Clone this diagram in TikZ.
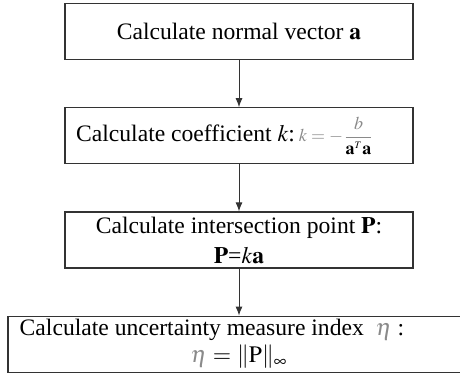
\documentclass[tikz,border=0pt]{standalone}
\usepackage{mathptmx}
\usepackage{fontspec}
\setmainfont{Liberation Serif}
\usetikzlibrary{arrows.meta,positioning}
\definecolor{FlowLine}{HTML}{333333}
\definecolor{FlowGray}{HTML}{8A8A8A}

\begin{document}
\begin{tikzpicture}[node distance=23.5pt]
    \tikzset{s/.style={draw=FlowLine,line width=0.6pt,minimum width=174pt,minimum height=28pt,
      align=center,inner ysep=1pt,font=\fontsize{11.8}{15}\selectfont},
      flow/.style={draw=FlowLine,line width=0.5pt,-{Latex[length=4.5pt,width=3.5pt]}}}
    \useasboundingbox (0,0) rectangle (230pt,-189pt);
    \node[s,anchor=north] (a) at (119.5pt,-1.5pt) {Calculate normal vector $\mathbf{a}$};
    \node[s,below=of a,inner ysep=0pt] (b) {Calculate coefficient $k$:\,{\small$\displaystyle\color{FlowGray}k=-\frac{b}{\textcolor{black}{\mathbf{a}^{\scriptscriptstyle T}\mathbf{a}}}$}\hspace*{14pt}};
    \node[s,below=of b] (c) {Calculate intersection point $\mathbf{P}$:\\ $\mathbf{P}$=$k\mathbf{a}$};
    \node[s,below=of c,minimum width=231pt,inner ysep=0pt,font=\fontsize{11.8}{13.5}\selectfont] (d) {Calculate uncertainty measure index \ {\color{FlowGray}$\eta$} :\hspace*{27pt}\\ {\color{FlowGray}$\eta$} $=$ $\|\mathrm{P}\|_{\infty}$};
    \draw[flow] (a) -- (b);
    \draw[flow] (b) -- (c);
    \draw[flow] (c) -- (d);
  \end{tikzpicture}
\end{document}
